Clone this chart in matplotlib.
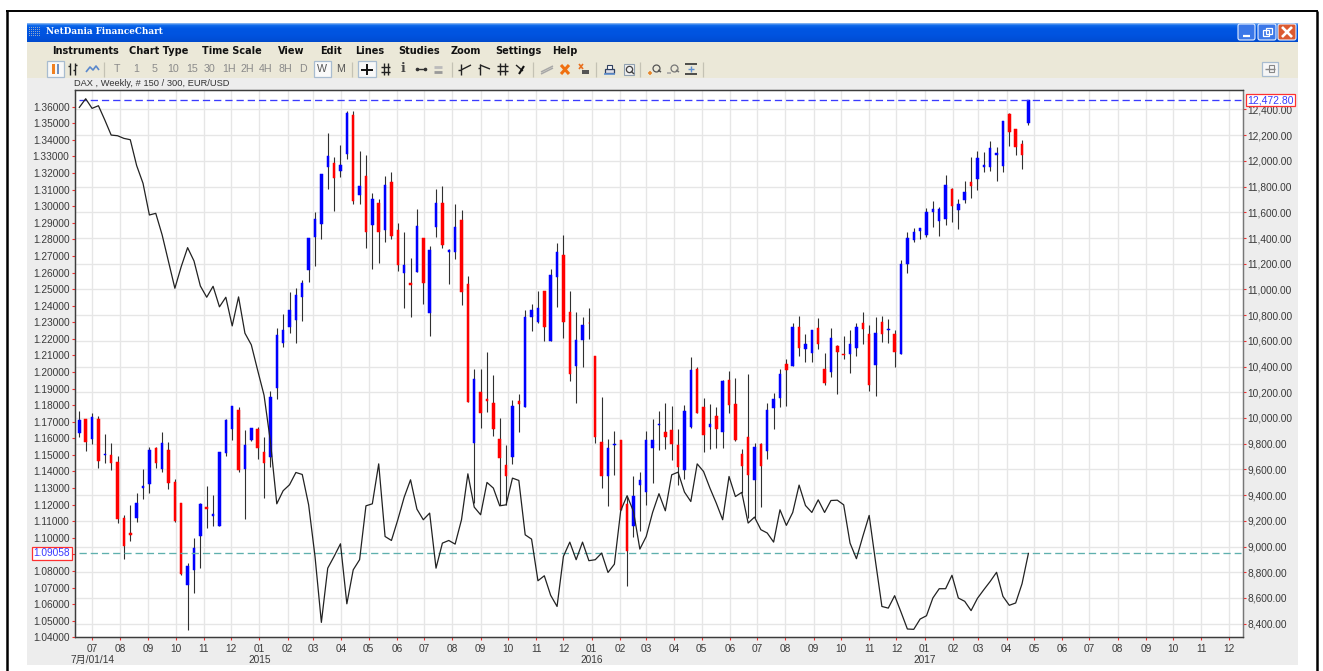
import matplotlib
matplotlib.use("Agg")
import matplotlib.pyplot as plt
import pandas as pd
from matplotlib.patches import Rectangle, FancyBboxPatch

plt.rcParams['font.family'] = ['Liberation Sans', 'Noto Sans CJK SC', 'DejaVu Sans']

# ---------- data ----------
START_DATE = "2014-06-17"
opens = [9886,9993,9834,9993,9713,9713,9658,9222,9108,9225,
 9458,9490,9767,9606,9749,9500,9342,8704,8821,9082,
 9308,9235,9160,9726,9917,10063,9601,9827,9917,9736,
 9700,10234,10586,10711,10763,10944,11152,11408,11512,11953,
 11982,11925,12057,12355,11735,11880,11504,11670,11463,11836,
 11460,11126,11048,11136,11401,10820,11489,11676,11289,11294,
 11543,11043,9808,10202,10148,10114,9837,9634,9699,10132,
 10083,10783,10750,10989,10602,11100,11264,10825,10408,10605,
 10740,10486,9814,9547,9791,9827,9331,9163,9479,9427,
 9767,9949,9891,9907,9790,9596,9933,10382,10089,9928,
 10016,9894,10294,10110,9721,9850,9518,9798,9747,10081,
 10159,10423,10408,10709,10535,10504,10703,10382,10356,10558,
 10496,10498,10548,10739,10651,10413,10745,10688,10651,10496,
 11198,11382,11455,11421,11605,11533,11546,11782,11621,11694,
 11834,11857,11955,11953,12046,11961,12368,12246,12132,12295]
highs = [10055,9993,10037,10016,9873,9809,9702,9246,9324,9414,
 9601,9772,9772,9892,9814,9523,9342,8875,9067,9342,
 9469,9401,9733,9990,10096,10083,9907,9923,9928,9855,
 10210,10698,10807,10983,11009,11074,11403,11600,11899,12217,
 12031,12122,12389,12389,12077,12049,11748,11702,11880,11917,
 11515,11447,11245,11629,11403,11336,11784,11803,11313,11663,
 11616,11105,10381,10381,10513,10335,9999,9790,10143,10187,
 10840,10886,10989,10989,11160,11365,11424,10989,10823,10789,
 10856,10486,10167,9837,9902,9827,9388,9552,9580,9899,
 9993,10055,10115,10096,9912,10102,10473,10400,10154,10107,
 10084,10296,10366,10312,9757,10340,9809,9809,10115,10198,
 10382,10457,10737,10794,10652,10685,10776,10509,10698,10568,
 10638,10685,10742,10822,10724,10789,10794,10768,10685,11227,
 11447,11478,11478,11637,11688,11642,11893,11787,11707,11844,
 12031,12077,12067,12155,12108,12313,12370,12248,12163,12477]
lows = [9855,9746,9798,9614,9653,9596,9181,8901,9046,9194,
 9368,9420,9614,9583,9451,9194,8782,8351,8642,8834,
 9145,9163,9160,9707,9832,9583,9215,9824,9684,9381,
 9622,10146,10550,10664,10586,10755,11061,11185,11396,11779,
 11613,11875,12015,11668,11668,11326,11157,11209,11372,11396,
 11144,10856,10789,11134,10887,10641,11411,11323,11043,11237,
 10882,10125,9337,9925,10049,9857,9324,9324,9645,9889,
 10083,10680,10737,10597,10602,10862,10623,10291,10120,10397,
 10618,9806,9459,9316,9557,9285,8696,9072,9124,9324,
 9492,9749,9757,9674,9479,9523,9920,10037,9734,9762,
 9770,9770,10037,9819,9414,9220,9220,9306,9684,9915,
 10089,10094,10405,10483,10439,10439,10535,10260,10322,10187,
 10462,10348,10485,10574,10213,10169,10592,10587,10395,10496,
 11131,11372,11393,11406,11486,11419,11502,11525,11473,11675,
 11714,11774,11911,11922,11847,11911,12116,12044,11937,12280]
closes = [9987,9816,10011,9668,9718,9650,9215,9007,9093,9342,
 9471,9749,9653,9803,9492,9197,8787,8852,8989,9331,
 9293,9254,9733,9987,10091,9596,9790,9920,9770,9650,
 10166,10646,10685,10841,10957,11048,11401,11551,11899,12039,
 11870,11966,12373,11691,11808,11450,11707,11445,11813,11414,
 11193,11193,11038,11491,11053,11310,11670,11349,11305,11484,
 10983,10125,10301,10042,10130,9917,9692,9552,10093,10112,
 10788,10840,10859,10706,11113,11292,10750,10343,10605,10724,
 10735,9853,9547,9767,9798,9285,8966,9391,9518,9827,
 9832,9954,9853,9798,9622,10055,10377,10042,9871,9954,
 9915,10291,10102,9830,9630,9557,9778,9630,10066,10149,
 10343,10371,10706,10548,10579,10683,10574,10275,10620,10517,
 10491,10574,10706,10693,10257,10662,10657,10693,10517,11198,
 11398,11447,11478,11600,11629,11629,11815,11650,11665,11756,
 11805,12025,11966,12098,12062,12313,12223,12111,12049,12472.8]
eurusd = [1.3596,1.3648,1.3590,1.3606,1.3520,1.3429,1.3425,1.3409,1.3401,1.3245,
 1.3138,1.2947,1.2957,1.2827,1.2666,1.2505,1.2636,1.2750,1.2670,1.2519,
 1.2451,1.2517,1.2393,1.2451,1.2278,1.2453,1.2234,1.2164,1.2010,1.1860,
 1.1581,1.1205,1.1284,1.1320,1.1394,1.1382,1.1199,1.0888,1.0490,1.0817,
 1.0888,1.0964,1.0602,1.0807,1.0868,1.1193,1.1205,1.1446,1.1008,1.0984,
 1.1109,1.1245,1.1350,1.1173,1.1109,1.1149,1.0817,1.0968,1.0984,1.0962,
 1.1109,1.1386,1.1185,1.1139,1.1334,1.1300,1.1193,1.1199,1.1360,1.1346,
 1.1018,1.0992,1.0741,1.0771,1.0653,1.0586,1.0888,1.0974,1.0868,1.0974,
 1.0862,1.0868,1.0908,1.0791,1.0841,1.1165,1.1254,1.1159,1.0932,1.1008,
 1.1153,1.1266,1.1163,1.1380,1.1396,1.1276,1.1219,1.1446,1.1400,1.1300,
 1.1209,1.1109,1.1370,1.1249,1.1274,1.1089,1.1125,1.1049,1.1029,1.0974,
 1.1169,1.1075,1.1153,1.1318,1.1195,1.1153,1.1229,1.1153,1.1225,1.1227,
 1.1199,1.0968,1.0874,1.1008,1.1135,1.0856,1.0586,1.0576,1.0651,1.0552,
 1.0450,1.0448,1.0510,1.0530,1.0637,1.0693,1.0693,1.0774,1.0637,1.0617,
 1.0561,1.0635,1.0687,1.0737,1.0792,1.0647,1.0593,1.0607,1.0723,1.09058]
assert all(len(a) == 150 for a in (opens, highs, lows, closes, eurusd))

dax_last = 12472.80
eur_last = 1.09058
dax_ticks = list(range(8400, 12401, 200))
eur_ticks = [1.04 + 0.01 * k for k in range(33)]
year_labels = [("2014-07-01", "7月/01/14"), ("2015-01-01", "2015"),
               ("2016-01-01", "2016"), ("2017-01-01", "2017")]
menu_items = [("Instruments", 52), ("Chart Type", 129), ("Time Scale", 202), ("View", 278),
              ("Edit", 320), ("Lines", 355), ("Studies", 398), ("Zoom", 451),
              ("Settings", 495), ("Help", 552)]
scale_items = [("T", 117), ("1", 136), ("5", 155), ("10", 173), ("15", 192), ("30", 210), ("1H", 229),
               ("2H", 247), ("4H", 266), ("8H", 285), ("D", 303), ("W", 322), ("M", 341)]

W, H = 1323, 671
fig = plt.figure(figsize=(W / 100, H / 100), dpi=100, facecolor="white")

# ---------- window chrome, drawn in image pixels ----------
bg = fig.add_axes([0, 0, 1, 1], zorder=0)
bg.set_xlim(0, W); bg.set_ylim(H, 0); bg.axis("off")
R = lambda x0, y0, x1, y1, **k: bg.add_patch(Rectangle((x0, y0), x1 - x0, y1 - y0, **k))
L = lambda xs, ys, c="#222222", lw=1.0, **k: bg.plot(xs, ys, color=c, lw=lw, solid_capstyle="butt", **k)

# screenshot border
L([7, 7], [11, 671], "#000000", 1.8)
L([6.3, 1317.7], [11, 11], "#000000", 1.4)
L([1317, 1317], [11, 671], "#000000", 1.8)

# panels
R(27, 78, 1298, 665, fc="#EDEDED", ec="none")
R(27, 42, 1298, 78, fc="#EBE8D8", ec="none")
stripes = ["#7DB0F0", "#3D86EE", "#0F6BEA", "#0A62E6", "#055CE5", "#0058E3", "#0056E2", "#0055E1", "#0054E0",
           "#0054E0", "#0054E0", "#0053DF", "#0052DE", "#0051DC", "#0050DA", "#004FD8", "#004ED5", "#004CD2", "#004ACD"]
for k, c in enumerate(stripes):
    R(27, 23 + k, 1298, 24 + k, fc=c, ec="none")

# title bar
for px in range(29, 41, 2):
    for py in range(27, 36, 2):
        R(px, py, px + 1, py + 1, fc="#8FA8C8", ec="none")
bg.text(46, 31.8, "NetDania FinanceChart", color="white", family="DejaVu Serif", weight="bold",
        fontsize=6.27, va="center", ha="left")

def win_button(x0, x1, fc):
    bg.add_patch(FancyBboxPatch((x0 + 1, 25), x1 - x0 - 2, 14, boxstyle="round,pad=1,rounding_size=2",
                                fc=fc, ec="#E8F0FF", lw=0.8))
win_button(1238, 1255, "#3C78E8")
win_button(1258, 1276, "#3C78E8")
win_button(1278, 1296, "#DC5A30")
L([1243, 1250], [36, 36], "white", 1.6)
R(1263, 30, 1269, 36, fc="none", ec="white", lw=0.9)
R(1266, 28, 1272, 34, fc="none", ec="white", lw=0.9)
L([1282, 1292], [27, 37], "white", 1.9)
L([1282, 1292], [37, 27], "white", 1.9)

# menu
for label, x in menu_items:
    bg.text(x, 50.8, label, family="DejaVu Sans", weight="bold", fontsize=7.0, color="#111111",
            va="center", ha="left")

# toolbar buttons
R(46.5, 61, 64, 77, fc="#F8F8F8", ec="#A8BCD0", lw=0.9)
R(313.5, 61, 331, 77, fc="#FAFAFA", ec="#A8BCD0", lw=0.9)
R(358, 61, 376, 77, fc="#F8F8F8", ec="#A8BCD0", lw=0.9)
bg.add_patch(Rectangle((1262, 62), 16, 14, fc="#F6F6F6", ec="#A8BCD0", lw=0.9))
for x in (103.5, 351.5, 451.5, 532.5, 595.5, 639.5, 702.5):
    L([x, x], [62, 77], "#C4C2B4", 0.9)

for label, x in scale_items:
    bg.text(x, 69.5, label, fontsize=7.7, color="#555555" if label in "WM" else "#8A8A8A",
            va="center", ha="center")

# candle icon
R(52, 64, 54.5, 74, fc="#F08020", ec="none"); R(56.5, 64, 59, 74, fc="#7090C0", ec="none")
# bars icon
L([70, 70], [63, 75]); L([75, 75], [63, 75]); L([68, 70], [66, 66]); L([73, 75], [70, 70]); L([75, 77], [65, 65])
# line icon
L([86, 90, 93, 96, 99], [72, 67, 70, 66, 70], "#5A88CC", 1.2)
# crosshair
L([361, 373], [69.5, 69.5], "#111111", 1.4); L([367, 367], [64, 75], "#111111", 1.4)
# grid icon
L([381, 390], [66.5, 66.5]); L([381, 390], [72, 72]); L([383.5, 383.5], [63, 75]); L([388, 388], [63, 75])
bg.text(403, 69, "i", fontsize=9, family="DejaVu Serif", weight="bold", color="#444444", ha="center", va="center")
L([417, 425], [69, 69], "#333333", 1.0, marker="o", ms=1.6, markevery=[0, 1])
L([434, 442], [72, 72], "#999999", 2.0); L([434, 442], [67, 67], "#BBBBBB", 2.0)
# line-study icons
L([461, 461], [64, 75]); L([461, 471], [70, 65]); L([458, 461], [70, 70])
L([480, 480], [64, 75]); L([480, 490], [65, 69]); L([478, 480], [68, 68])
L([497, 508], [66, 66]); L([497, 508], [71, 71]); L([500, 500], [63, 75]); L([505, 505], [63, 75])
L([516, 523], [65, 71]); L([519, 524], [74, 66], "#111111", 1.5)
L([541, 553], [72, 66], "#A8A8A8", 1.1); L([541, 553], [74, 68], "#A8A8A8", 1.1)
L([561, 569], [65, 74], "#F07010", 2.2); L([561, 569], [74, 65], "#F07010", 2.2)
L([579, 583], [64, 69], "#E87020", 1.2); L([579, 583], [69, 64], "#E87020", 1.2)
R(582, 70, 589, 74, fc="#555555", ec="none")
# print / preview
R(605, 69, 614, 73, fc="#E0E0E8", ec="#304060", lw=0.9); R(607, 65, 612, 69, fc="#F8F8F8", ec="#304060", lw=0.8)
L([604, 615], [73.5, 73.5], "#6090D0", 1.2)
R(624, 64, 634, 75, fc="#F0F0F0", ec="#90A0B0", lw=0.8)
bg.plot([629], [69], "o", ms=4.5, mfc="none", mec="#444444", mew=0.9); L([631, 634], [71, 74], "#444444", 1.0)
# zoom icons
bg.plot([656], [67.5], "o", ms=5, mfc="none", mec="#555555", mew=0.9); L([658, 661], [70, 72], "#555555", 1.1)
L([648, 652], [73, 73], "#E88020", 1.1); L([650, 650], [71, 75], "#E88020", 1.1)
bg.plot([674], [67.5], "o", ms=5, mfc="none", mec="#777777", mew=0.9); L([676, 679], [70, 72], "#777777", 1.1)
L([667, 671], [73, 73], "#A0A0A0", 1.1)
L([685, 697], [64, 64], "#222222", 1.1); L([685, 697], [74, 74], "#222222", 1.1)
L([691, 691], [66, 72], "#6090D0", 1.0); L([688, 694], [69, 69], "#6090D0", 1.0)
# pin
L([1265, 1275], [69, 69], "#888888", 1.0); R(1269, 65, 1274, 72, fc="none", ec="#888888", lw=0.8)

bg.text(74, 83.3, "DAX , Weekly, # 150 / 300, EUR/USD", fontsize=6.7, color="#333333", ha="left", va="center")

# ---------- chart ----------
dates = pd.date_range(START_DATE, periods=len(closes), freq="7D")
month_ticks = pd.date_range("2014-07-01", "2017-12-01", freq="MS")
day = pd.Timedelta(days=1)

ax = fig.add_axes([74.5 / W, (H - 637.3) / H, 1168.2 / W, (637.3 - 90.3) / H], zorder=1, facecolor="white")
axl = ax.twinx()
axl.set_zorder(2)
axl.patch.set_visible(False)

ax.set_xlim(dates[0] - 5.3 * day, dates[0] + 1278.5 * day)
ax.set_ylim(8294, 12549)
axl.set_ylim(1.04, 1.3699)

# right axis: DAX
ax.yaxis.tick_right()
ax.set_yticks(dax_ticks)
ax.set_yticklabels([f"{v:,.2f}" for v in dax_ticks])
# left axis: EUR/USD
axl.yaxis.tick_left()
axl.set_yticks(eur_ticks)
axl.set_yticklabels([f"{v:.5f}" for v in eur_ticks])
# months
ax.set_xticks(month_ticks)
ax.set_xticklabels([d.strftime("%m") for d in month_ticks])

ax.grid(True, color="#E6E6E6", lw=0.95, zorder=0)
ax.set_axisbelow(True)
for a in (ax, axl):
    a.tick_params(axis="both", length=2.2, width=0.8, color="#F03030", labelsize=7.3,
                  labelcolor="#3A3A3A", pad=1.4)
ax.tick_params(axis="x", pad=2.6)
for a in (ax, axl):
    for s in a.spines.values():
        s.set_color("#3C3C3C"); s.set_linewidth(0.9)
    a.spines["right"].set_color("#777777")

# candles on the DAX scale
colors = ["#0000FF" if c >= o else "#FF0000" for o, c in zip(opens, closes)]
ax.vlines(dates, lows, highs, color="#303030", lw=0.8, zorder=3)
ax.bar(dates, [abs(c - o) for o, c in zip(opens, closes)], bottom=[min(o, c) for o, c in zip(opens, closes)],
       width=2.7, color=colors, edgecolor=colors, lw=0.35, zorder=4)

# EUR/USD line
axl.plot(dates, eurusd, color="#222222", lw=0.9, zorder=5)

# last-value dashed lines
ax.hlines(dax_last, dates[0], ax.get_xlim()[1] - 1.5, color="#3A3AFF", lw=0.95, linestyles=(0, (5.5, 3)), zorder=6)
axl.hlines(eur_last, dates[0], axl.get_xlim()[1] - 1.5, color="#5FB0AE", lw=0.95, linestyles=(0, (5.5, 3)), zorder=1)

# last-value tags
box = dict(boxstyle="square,pad=0.12", fc="white", ec="#FF3030", lw=0.9)
ax.annotate(f"{dax_last:,.2f}", xy=(1, dax_last), xycoords=ax.get_yaxis_transform(), xytext=(3.6, 0),
            textcoords="offset points", fontsize=7.5, color="#3A3AFF", ha="left", va="center",
            bbox=box, annotation_clip=False, zorder=10)
axl.annotate(f"{eur_last:.5f}", xy=(0, eur_last), xycoords=axl.get_yaxis_transform(), xytext=(-3, 0),
             textcoords="offset points", fontsize=7.3, color="#3A3AFF", ha="right", va="center",
             bbox=box, annotation_clip=False, zorder=10)

# year row under the months
for d, label in year_labels:
    ax.text(pd.Timestamp(d), -0.0415, label, transform=ax.get_xaxis_transform(), fontsize=7.3,
            color="#3A3A3A", ha="center", va="center", clip_on=False)

fig.savefig("out.png", dpi=100, facecolor="white")
